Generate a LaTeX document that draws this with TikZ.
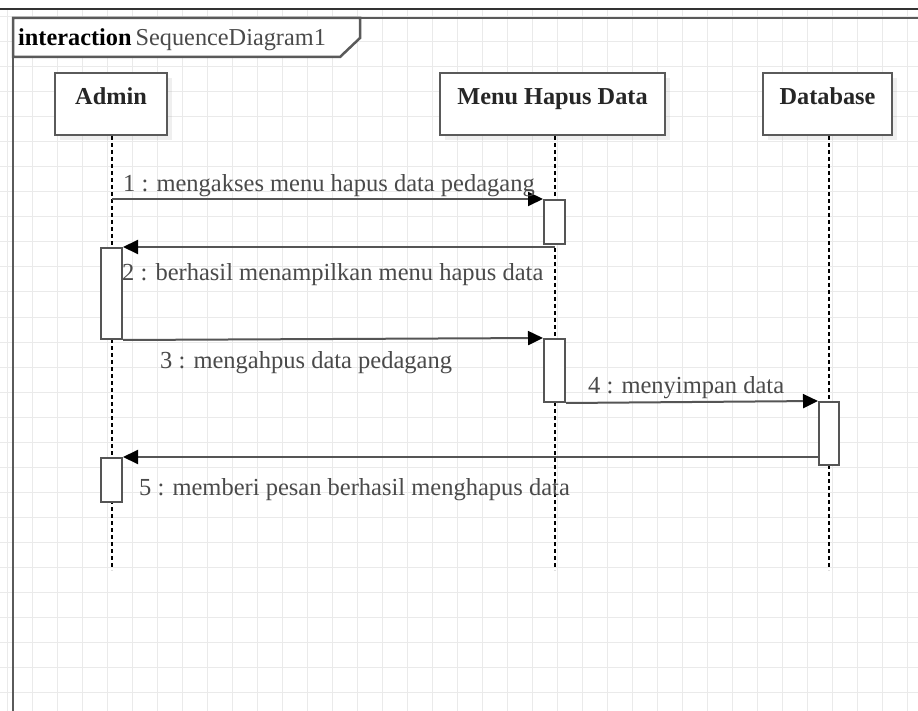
\documentclass[tikz,border=0pt]{standalone}
\usepackage{fontspec}
\setmainfont{Liberation Serif}
\usetikzlibrary{arrows.meta,shadows}
\definecolor{gridc}{HTML}{EAEAEA}
\definecolor{framec}{HTML}{5A5A5A}
\definecolor{linec}{HTML}{555555}
\definecolor{textc}{HTML}{4A4A4A}
\tikzset{
  head/.style={draw=framec, line width=2pt, fill=white, rectangle, inner sep=0pt,
    drop shadow={opacity=0.12, shadow xshift=5pt, shadow yshift=-5pt}},
  headtxt/.style={font=\fontsize{24.3}{28}\selectfont\bfseries, text=black!85, inner sep=0pt, anchor=base},
  lifeline/.style={draw=black, line width=1.3pt, dash pattern=on 4pt off 3pt},
  actbox/.style={draw=linec, line width=2pt, fill=white, rectangle, inner sep=0pt,
    minimum width=21pt, anchor=north west},
  msg/.style={draw=linec, line width=2pt, -{Triangle[length=15pt,width=14pt,color=black]}},
  msgtxt/.style={font=\fontsize{24.5}{28}\selectfont, text=textc, inner sep=0pt, anchor=base west}
}
\begin{document}
\begin{tikzpicture}[x=1pt,y=-1pt]
\useasboundingbox (0,0) rectangle (918,711);
\fill[white] (0,0) rectangle (918,711);
% background grid
\foreach \gx in {7,32,...,907} \draw[gridc, line width=1pt] (\gx,9) -- (\gx,711);
\foreach \gy in {17,42,...,711} \draw[gridc, line width=1pt] (0,\gy) -- (918,\gy);
% window top border
\draw[black!80, line width=1.5pt] (0,9) -- (918,9);
% interaction frame
\draw[framec, line width=2.5pt] (13,711) -- (13,18) -- (918,18);
\draw[framec, line width=2.5pt, fill=white] (13,18) -- (360,18) -- (360,38) -- (340,57) -- (13,57) -- cycle;
\node[inner sep=0pt, anchor=base west, font=\fontsize{24.3}{28}\selectfont] (frametitle) at (18,46)
  {\textbf{interaction}\,\textcolor{textc}{SequenceDiagram1}};
% lifeline heads
\node[head, minimum width=112pt, minimum height=62pt] (admin) at (111,104) {};
\node[head, minimum width=225pt, minimum height=62pt] (menu) at (552.5,104) {};
\node[head, minimum width=129pt, minimum height=62pt] (db) at (827.5,104) {};
\node[headtxt] (admint) at (111,105) {Admin};
\node[headtxt] (menut) at (552.5,105) {Menu Hapus Data};
\node[headtxt] (dbt) at (827.5,105) {Database};
% lifeline ends
\coordinate (adminend) at (112,570);
\coordinate (menuend) at (555,570);
\coordinate (dbend) at (829,570);
\draw[lifeline] (admin.south -| adminend) -- (adminend);
\draw[lifeline] (menu.south -| menuend) -- (menuend);
\draw[lifeline] (db.south -| dbend) -- (dbend);
% activations
\node[actbox, minimum height=44pt] (act1) at (543,199) {};
\node[actbox, minimum height=91pt] (act2) at (100,247) {};
\node[actbox, minimum height=63pt] (act3) at (543,338) {};
\node[actbox, minimum width=20pt, minimum height=63pt] (act4) at (818,401) {};
\node[actbox, minimum height=44pt] (act5) at (100,457) {};
% message end points on lifelines
\coordinate (m1s) at (112,199);
\coordinate (m2s) at (555,247);
\coordinate (m5s) at (818,457);
% messages
\draw[msg] (m1s) -- (act1.north west);
\draw[msg] (m2s) -- (act2.north east);
\draw[msg] (act2.south east) -- (act3.north west);
\draw[msg] (act3.south east) -- (act4.north west);
\draw[msg] (m5s) -- (act5.north east);
% message labels
\node[msgtxt] (l1) at (123,192) {1 : mengakses menu hapus data pedagang};
\node[msgtxt] (l2) at (122,280) {2 : berhasil menampilkan menu hapus data};
\node[msgtxt] (l3) at (160,368) {3 : mengahpus data pedagang};
\node[msgtxt] (l4) at (588,393) {4 : menyimpan data};
\node[msgtxt] (l5) at (139,495) {5 : memberi pesan berhasil menghapus data};
\end{tikzpicture}
\end{document}
